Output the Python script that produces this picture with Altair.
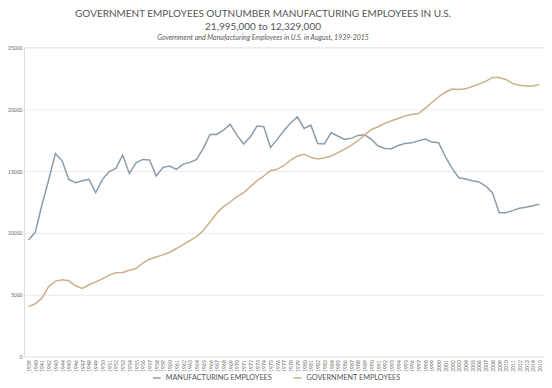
import altair as alt
import pandas as pd

years = list(range(1939, 2016))

manufacturing = [
    9440, 10030, 12260, 14280, 16420, 15830, 14330, 14060, 14220, 14330,
    13250, 14330, 14950, 15220, 16290, 14810, 15670, 15940, 15890, 14600,
    15300, 15400, 15140, 15560, 15700, 15940, 16830, 17960, 17960, 18310,
    18770, 17900, 17180, 17770, 18630, 18580, 16910, 17560, 18270, 18900,
    19380, 18440, 18710, 17230, 17180, 18090, 17830, 17560, 17640, 17880,
    17930, 17560, 17020, 16830, 16800, 17070, 17230, 17290, 17440, 17580,
    17340, 17290, 16160, 15220, 14460, 14360, 14220, 14120, 13790, 13250,
    11640, 11640, 11800, 11990, 12070, 12200, 12329,
]

government = [
    4050, 4280, 4730, 5670, 6110, 6210, 6130, 5730, 5510, 5810,
    6050, 6290, 6590, 6780, 6800, 6990, 7120, 7560, 7880, 8050,
    8230, 8440, 8740, 9060, 9380, 9700, 10190, 10890, 11590, 12120,
    12500, 12930, 13250, 13740, 14220, 14600, 15030, 15140, 15450, 15890,
    16210, 16350, 16110, 15970, 16050, 16210, 16480, 16750, 17070, 17450,
    17900, 18360, 18580, 18850, 19060, 19250, 19460, 19570, 19650, 20060,
    20540, 21000, 21370, 21620, 21590, 21640, 21830, 22020, 22240, 22560,
    22560, 22400, 22080, 21940, 21880, 21880, 21995,
]

series_names = ["MANUFACTURING EMPLOYEES", "GOVERNMENT EMPLOYEES"]
series_colors = ["#8c9cab", "#cbb08a"]

title_lines = [
    "GOVERNMENT EMPLOYEES OUTNUMBER MANUFACTURING EMPLOYEES IN U.S.",
    "21,995,000 to 12,329,000",
]
subtitle_text = "Government and Manufacturing Employees in U.S. in August, 1939-2015"

df = pd.DataFrame({
    "Year": years * 2,
    "Employees": manufacturing + government,
    "Series": [series_names[0]] * len(years) + [series_names[1]] * len(years),
})

chart = alt.Chart(df).mark_line(strokeWidth=1.5).encode(
    x=alt.X(
        "Year:O",
        title=None,
        scale=alt.Scale(type="point", padding=0.67),
        axis=alt.Axis(
            labelAngle=270, labelFontSize=5, labelColor="#666666",
            labelPadding=3, ticks=False, domain=False, grid=False,
            labelFont="Lato",
        ),
    ),
    y=alt.Y(
        "Employees:Q",
        title=None,
        scale=alt.Scale(domain=[0, 25000]),
        axis=alt.Axis(
            values=[0, 5000, 10000, 15000, 20000, 25000], format="d",
            labelFontSize=5, labelColor="#666666", labelPadding=2,
            ticks=False, domain=False, gridColor="#ececec", gridWidth=1,
            labelFont="Lato",
        ),
    ),
    color=alt.Color(
        "Series:N",
        scale=alt.Scale(domain=series_names, range=series_colors),
        legend=alt.Legend(
            title=None, orient="none", direction="horizontal",
            legendX=128, legendY=326, symbolType="stroke",
            symbolSize=60, symbolStrokeWidth=1.5, labelFontSize=7.3,
            labelColor="#555555", labelFont="Lato", columnPadding=18,
            labelLimit=200,
        ),
    ),
).properties(
    width=521,
    height=310,
    autosize=alt.AutoSizeParams(type="none"),
    padding={"left": 16, "top": 39, "right": 0, "bottom": 30},
    title=alt.TitleParams(
        text=title_lines,
        subtitle=subtitle_text,
        anchor="middle",
        dx=-21,
        offset=4,
        font="Lato",
        fontSize=10,
        fontWeight="normal",
        color="#555555",
        lineHeight=13,
        subtitleFont="Lato",
        subtitleFontSize=7,
        subtitleFontStyle="italic",
        subtitleColor="#595959",
        subtitlePadding=2,
    ),
).configure_view(stroke=None).configure(background="white")

chart.save("out.html", embed_options={"renderer": "svg", "actions": False})
